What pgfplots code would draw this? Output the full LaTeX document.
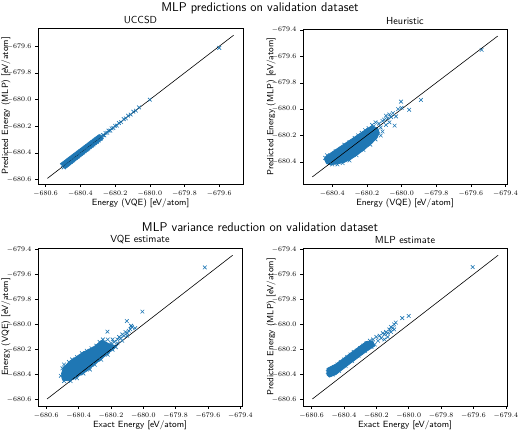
\documentclass[border=0pt]{standalone}
\usepackage{fontspec}
\usepackage{pgfplots}
\pgfplotsset{compat=1.18}
\definecolor{tabblue}{HTML}{1F77B4}

\pgfplotsset{
  every axis/.append style={
    scale only axis,
    tick align=outside,
    xtick pos=left, ytick pos=left,
    major tick length=3pt,
    tick style={black, line width=0.5pt},
    axis line style={black, line width=0.6pt},
    scaled ticks=false,
    ticklabel style={font=\fontsize{7.4}{9}\selectfont},
    xticklabel style={/pgf/number format/.cd, fixed, fixed zerofill, precision=1},
    yticklabel style={/pgf/number format/.cd, fixed, fixed zerofill, precision=1},
    label style={font=\sffamily\fontsize{9}{11}\selectfont},
    title style={font=\sffamily\fontsize{10.2}{12}\selectfont, yshift=-5.5pt},
    xlabel style={yshift=4pt},
    ylabel style={at={(axis description cs:0,0.5)}, anchor=center, yshift=32pt},
  },
  pts/.style={only marks, mark=x, mark size=2.6pt, color=tabblue, mark options={line width=0.6pt}},
  core/.style={fill=tabblue, draw=tabblue, line width=0.8pt},
  diag/.style={black, line width=0.6pt},
}

\begin{document}
\begin{tikzpicture}
\useasboundingbox (0pt,0pt) rectangle (520pt,429pt);

\node[font=\sffamily\fontsize{12.7}{15}\selectfont] at (260pt,420.5pt) {MLP predictions on validation dataset};
\node[font=\sffamily\fontsize{12.7}{15}\selectfont] at (260pt,202pt) {MLP variance reduction on validation dataset};

% UCCSD
\begin{axis}[
  at={(38pt,245pt)}, anchor=south west, width=205pt, height=156pt,
  title={UCCSD},
  xmin=-680.644, xmax=-679.463, ymin=-680.632, ymax=-679.463,
  xtick={-680.6,-680.4,-680.2,-680.0,-679.8,-679.6},
  ytick={-680.6,-680.4,-680.2,-680.0,-679.8,-679.6},
  xlabel={Energy (VQE) [eV/atom]}, ylabel={Predicted Energy (MLP) [eV/atom]},
]
\addplot[core] coordinates {
(-680.515,-680.480) (-680.485,-680.515) (-680.268,-680.292) (-680.292,-680.262)
} -- cycle;
\addplot[pts] coordinates {
(-680.500,-680.490) (-680.496,-680.508) (-680.490,-680.478) (-680.486,-680.496)
(-680.480,-680.468) (-680.476,-680.486) (-680.470,-680.458) (-680.466,-680.476)
(-680.460,-680.448) (-680.455,-680.466) (-680.450,-680.438) (-680.446,-680.456)
(-680.440,-680.428) (-680.436,-680.446) (-680.430,-680.418) (-680.426,-680.436)
(-680.420,-680.408) (-680.416,-680.426) (-680.410,-680.398) (-680.405,-680.416)
(-680.400,-680.388) (-680.396,-680.406) (-680.390,-680.378) (-680.385,-680.396)
(-680.380,-680.368) (-680.375,-680.386) (-680.370,-680.358) (-680.365,-680.376)
(-680.360,-680.348) (-680.355,-680.366) (-680.350,-680.338) (-680.345,-680.356)
(-680.340,-680.328) (-680.335,-680.346) (-680.330,-680.318) (-680.325,-680.336)
(-680.320,-680.308) (-680.315,-680.326) (-680.310,-680.298) (-680.305,-680.316)
(-680.300,-680.289) (-680.295,-680.306) (-680.290,-680.280) (-680.284,-680.294)
(-680.278,-680.272) (-680.270,-680.265) (-680.262,-680.268) (-680.255,-680.250)
(-680.245,-680.248) (-680.238,-680.232) (-680.228,-680.232) (-680.220,-680.215)
(-680.210,-680.212) (-680.200,-680.196) (-680.190,-680.194) (-680.178,-680.175)
(-680.165,-680.168) (-680.150,-680.146) (-680.138,-680.140) (-680.125,-680.120)
(-680.110,-680.112) (-680.095,-680.090) (-680.080,-680.082) (-680.062,-680.058)
(-680.000,-680.000) (-679.600,-679.612)
};
\addplot[diag] coordinates {(-680.590,-680.590) (-679.517,-679.517)};
\end{axis}

% Heuristic
\begin{axis}[
  at={(303pt,245pt)}, anchor=south west, width=204pt, height=155pt,
  title={Heuristic},
  xmin=-680.5685, xmax=-679.3915, ymin=-680.5685, ymax=-679.3915,
  xtick={-680.4,-680.2,-680.0,-679.8,-679.6,-679.4},
  ytick={-680.4,-680.2,-680.0,-679.8,-679.6,-679.4},
  xlabel={Energy (VQE) [eV/atom]}, ylabel={Predicted Energy (MLP) [eV/atom]},
]
\addplot[core] coordinates {
(-680.440,-680.395) (-680.432,-680.414) (-680.410,-680.422) (-680.370,-680.416)
(-680.330,-680.404) (-680.290,-680.378) (-680.250,-680.342) (-680.210,-680.302)
(-680.170,-680.257) (-680.140,-680.214) (-680.128,-680.180) (-680.138,-680.143)
(-680.170,-680.130) (-680.200,-680.150) (-680.240,-680.185) (-680.280,-680.220)
(-680.320,-680.255) (-680.360,-680.290) (-680.400,-680.325) (-680.432,-680.355)
(-680.445,-680.378)} -- cycle;
\addplot[pts] coordinates {
(-680.440,-680.370) (-680.430,-680.350) (-680.420,-680.400) (-680.400,-680.420)
(-680.380,-680.320) (-680.350,-680.300) (-680.330,-680.270) (-680.300,-680.250)
(-680.270,-680.220) (-680.250,-680.200) (-680.230,-680.180) (-680.210,-680.160)
(-680.190,-680.145) (-680.170,-680.120) (-680.150,-680.100) (-680.160,-680.130)
(-680.130,-680.110) (-680.120,-680.140) (-680.110,-680.090) (-680.100,-680.080)
(-680.090,-680.050) (-680.080,-680.070) (-680.070,-680.040) (-680.060,-680.060)
(-680.050,-680.030) (-680.110,-680.170) (-680.120,-680.200) (-680.150,-680.230)
(-680.180,-680.270) (-680.220,-680.310) (-680.260,-680.350) (-680.300,-680.390)
(-680.340,-680.410) (-680.370,-680.420) (-680.090,-680.120) (-680.070,-680.100)
(-680.040,-680.125) (-680.032,-680.055) (-680.003,-679.943) (-679.956,-680.005)
(-679.888,-679.930) (-679.538,-679.550) (-680.000,-679.990) (-680.020,-680.000)
};
\addplot[diag] coordinates {(-680.515,-680.515) (-679.445,-679.445)};
\end{axis}

% VQE estimate
\begin{axis}[
  at={(38pt,23pt)}, anchor=south west, width=204pt, height=158pt,
  title={VQE estimate},
  xmin=-680.651, xmax=-679.390, ymin=-680.651, ymax=-679.390,
  xtick={-680.6,-680.4,-680.2,-680.0,-679.8,-679.6,-679.4},
  ytick={-680.6,-680.4,-680.2,-680.0,-679.8,-679.6,-679.4},
  xlabel={Exact Energy [eV/atom]}, ylabel={Energy (VQE) [eV/atom]},
]
\addplot[core] coordinates {
(-680.503,-680.430) (-680.498,-680.445) (-680.460,-680.450) (-680.431,-680.437)
(-680.349,-680.372) (-680.287,-680.305) (-680.226,-680.240) (-680.180,-680.192)
(-680.168,-680.170) (-680.200,-680.160) (-680.256,-680.128) (-680.308,-680.180)
(-680.370,-680.220) (-680.431,-680.272) (-680.493,-680.340) (-680.505,-680.390)
} -- cycle;
\addplot[pts] coordinates {
(-680.500,-680.350) (-680.490,-680.320) (-680.460,-680.300) (-680.440,-680.280)
(-680.410,-680.260) (-680.380,-680.230) (-680.350,-680.210) (-680.320,-680.190)
(-680.290,-680.170) (-680.270,-680.140) (-680.250,-680.120) (-680.510,-680.410)
(-680.490,-680.452) (-680.450,-680.452) (-680.410,-680.430) (-680.370,-680.392)
(-680.330,-680.360) (-680.300,-680.322) (-680.260,-680.282) (-680.220,-680.242)
(-680.190,-680.202) (-680.170,-680.182) (-680.240,-680.140) (-680.220,-680.120)
(-680.200,-680.150) (-680.190,-680.120) (-680.180,-680.140) (-680.160,-680.120)
(-680.150,-680.100) (-680.140,-680.110) (-680.130,-680.080) (-680.120,-680.090)
(-680.110,-680.060) (-680.100,-680.070) (-680.090,-680.050) (-680.080,-680.040)
(-680.070,-680.020) (-680.075,-680.010) (-680.130,-680.130) (-680.100,-680.090)
(-680.160,-680.150) (-680.222,-680.058) (-680.102,-679.973) (-680.076,-680.013)
(-680.006,-679.898) (-679.620,-679.545) (-680.050,-680.030)
};
\addplot[diag] coordinates {(-680.595,-680.595) (-679.448,-679.448)};
\end{axis}

% MLP estimate
\begin{axis}[
  at={(303pt,23pt)}, anchor=south west, width=204pt, height=158pt,
  title={MLP estimate},
  xmin=-680.653, xmax=-679.393, ymin=-680.651, ymax=-679.390,
  xtick={-680.6,-680.4,-680.2,-680.0,-679.8,-679.6,-679.4},
  ytick={-680.6,-680.4,-680.2,-680.0,-679.8,-679.6,-679.4},
  xlabel={Exact Energy [eV/atom]}, ylabel={Predicted Energy (MLP) [eV/atom]},
]
\addplot[core] coordinates {
(-680.505,-680.402) (-680.490,-680.420) (-680.450,-680.400) (-680.363,-680.313)
(-680.260,-680.214) (-680.210,-680.172) (-680.222,-680.132) (-680.262,-680.136)
(-680.363,-680.232) (-680.450,-680.316) (-680.505,-680.352)
} -- cycle;
\addplot[pts] coordinates {
(-680.500,-680.380) (-680.480,-680.360) (-680.460,-680.340) (-680.440,-680.320)
(-680.420,-680.300) (-680.400,-680.280) (-680.380,-680.260) (-680.360,-680.240)
(-680.340,-680.220) (-680.320,-680.210) (-680.300,-680.190) (-680.280,-680.170)
(-680.260,-680.150) (-680.240,-680.130) (-680.220,-680.120) (-680.210,-680.160)
(-680.200,-680.100) (-680.190,-680.130) (-680.180,-680.090) (-680.170,-680.110)
(-680.160,-680.070) (-680.150,-680.080) (-680.140,-680.060) (-680.130,-680.070)
(-680.120,-680.040) (-680.110,-680.020) (-680.100,-680.030) (-680.090,-680.000)
(-680.080,-679.985) (-680.040,-679.950) (-680.000,-679.932) (-679.605,-679.542)
(-680.130,-680.100) (-680.150,-680.120) (-680.110,-680.060) (-680.090,-680.040)
(-680.470,-680.400) (-680.430,-680.370) (-680.390,-680.330) (-680.350,-680.290)
(-680.310,-680.250) (-680.270,-680.210) (-680.230,-680.180)
};
\addplot[diag] coordinates {(-680.595,-680.595) (-679.448,-679.448)};
\end{axis}
\end{tikzpicture}
\end{document}
